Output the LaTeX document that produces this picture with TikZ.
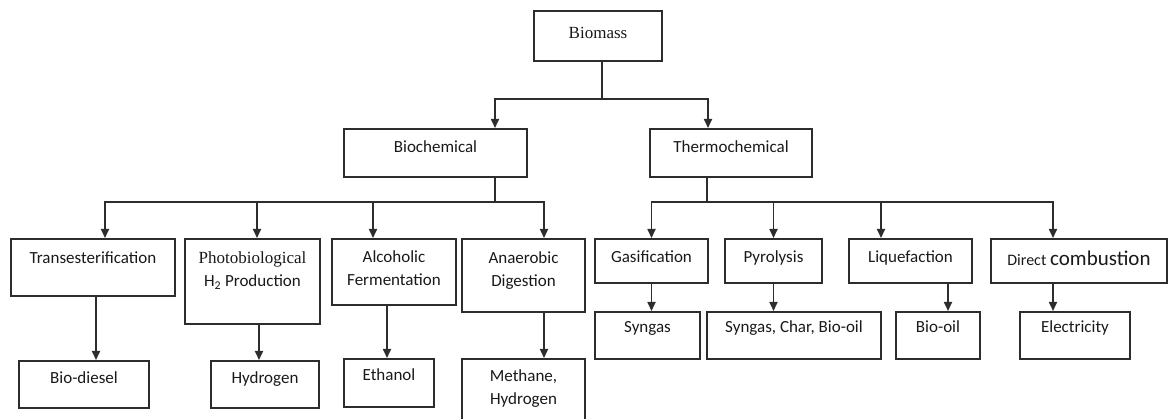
\documentclass[tikz,border=0pt]{standalone}
\usepackage{fontspec}
\setmainfont{Liberation Serif}
\newfontfamily\calib{Carlito}
\usetikzlibrary{arrows.meta,positioning}
\definecolor{lineGray}{RGB}{45,45,45}
\definecolor{textGray}{RGB}{25,25,25}

\begin{document}
\begin{tikzpicture}[
  x=1pt,y=-1pt,
  every node/.style={align=center,text=textGray},
  box/.style={draw=lineGray,line width=1.7pt,inner xsep=0pt,inner ysep=0pt,anchor=north,
    font=\calib\fontsize{17}{23}\selectfont},
  line/.style={lineGray,line width=1.7pt},
  arr/.style={-{Triangle[width=8pt,length=9pt]},line width=1.7pt,lineGray}]
\useasboundingbox (0,0) rectangle (1171,419);
\clip (0,0) rectangle (1171,419);
% top levels
\node[box,font=\fontsize{17}{23}\selectfont,minimum width=128pt,text height=28pt,text depth=22pt] (biomass) at (598,10) {Biomass};
\node[box,minimum width=183pt,text height=24pt,text depth=24pt] (biochem) at (435.5,128) {Biochemical};
\node[box,minimum width=162pt,text height=24pt,text depth=24pt] (thermo) at (731,128) {Thermochemical};
% processes
\node[box,minimum width=164pt,text height=25pt,text depth=32pt] (trans) at (93,238) {Transesterification};
\node[box,minimum width=135pt,text height=48pt,text depth=37pt] (photo) at (252.5,238) {{\rmfamily Photobiological}\\H\textsubscript{2} Production};
\node[box,minimum width=124pt,text height=47pt,text depth=19pt] (alc) at (394,238) {Alcoholic\\Fermentation};
\node[box,minimum width=123pt,text height=48pt,text depth=25pt] (anaer) at (523.5,238) {Anaerobic\\Digestion};
\node[box,minimum width=113pt,text height=24pt,text depth=20pt] (gas) at (651.5,238) {Gasification};
\node[box,minimum width=97pt,text height=24pt,text depth=20pt] (pyro) at (773.5,238) {Pyrolysis};
\node[box,minimum width=123pt,text height=24pt,text depth=20pt] (liq) at (910.5,238) {Liquefaction};
\node[box,minimum width=176pt,text height=27pt,text depth=17pt] (direct) at (1079,238) {{\fontsize{16}{23}\selectfont Direct} {\fontsize{21}{23}\selectfont combustion}};
% products
\node[box,minimum width=130pt,text height=23pt,text depth=24pt] (diesel) at (84,360) {Bio-diesel};
\node[box,minimum width=108pt,text height=23pt,text depth=24pt] (hydro) at (265,360) {Hydrogen};
\node[box,minimum width=90pt,text height=22pt,text depth=26pt] (ethanol) at (389,358) {Ethanol};
\node[box,minimum width=123pt,text height=46pt,text depth=21pt] (methane) at (523.5,358) {Methane,\\Hydrogen};
\node[box,minimum width=105pt,text height=21pt,text depth=26pt] (syngas) at (647.5,311) {Syngas};
\node[box,minimum width=174pt,text height=21pt,text depth=26pt] (pyroprod) at (794,311) {Syngas, Char, Bio-oil};
\node[box,minimum width=84pt,text height=21pt,text depth=26pt] (biooil) at (938,311) {Bio-oil};
\node[box,minimum width=110pt,text height=21pt,text depth=26pt] (elec) at (1075,311) {Electricity};
% connectors
\draw[line] ([xshift=4pt]biomass.south) -- ++(0,37) coordinate (split);
\draw[arr] (split) -| ([xshift=59.5pt]biochem.north);
\draw[arr] (split) -| ([xshift=-23pt]thermo.north);
\draw[line] ([xshift=59.5pt]biochem.south) -- ++(0,24) coordinate (bcbus);
\draw[line] ([xshift=-24pt]thermo.south) -- ++(0,24) coordinate (tcbus);
\foreach \n/\s in {trans/12,photo/4.5,alc/-21,anaer/20.5}
  \draw[arr] (bcbus) -| ([xshift=\s pt]\n.north);
\foreach \n/\s in {gas/0,pyro/0,liq/-29.5,direct/-26}
  \draw[arr] (tcbus) -| ([xshift=\s pt]\n.north);
\foreach \a/\b/\s in {trans/diesel/3,photo/hydro/6.5,alc/ethanol/-7,anaer/methane/20.5,
    gas/syngas/0,pyro/pyroprod/0,liq/biooil/37.5,direct/elec/-26}
  \draw[arr] ([xshift=\s pt]\a.south) -- ([xshift=\s pt]\a.south |- \b.north);
\end{tikzpicture}
\end{document}
